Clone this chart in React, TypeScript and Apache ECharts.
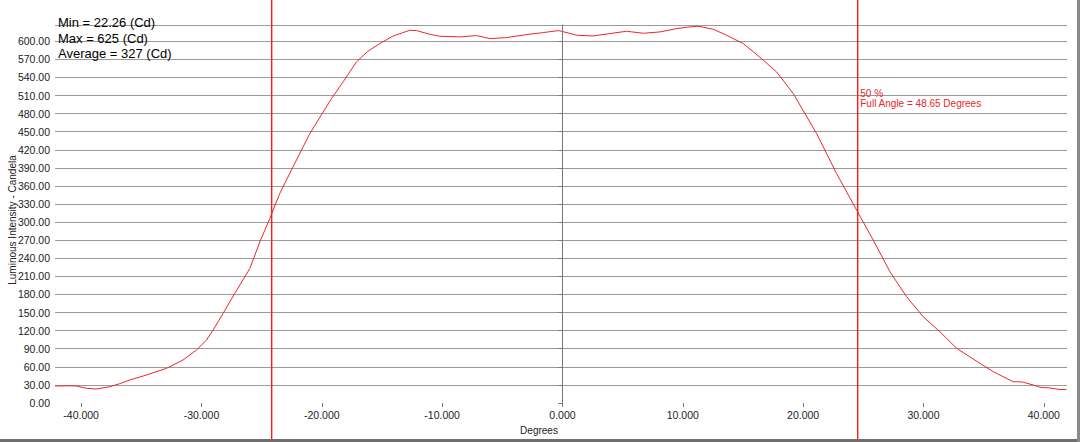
import React, { useEffect, useRef } from "react";
import * as echarts from "echarts";

// Angle (degrees) and luminous intensity (cd)
const degrees = [
  -42.17, -41.0, -40.4, -39.56, -38.73, -37.62, -36.8, -35.96, -34.57, -32.91,
  -31.53, -30.42, -29.58, -29.03, -28.2, -27.23, -25.98, -25.15, -24.32, -23.49,
  -22.39, -20.99, -19.19, -18.23, -17.12, -16.2, -15.18, -14.07, -13.3, -12.68,
  -12.13, -11.02, -10.19, -8.53, -7.14, -6.03, -4.65, -2.98, -1.6, -0.36,
  -0.07, 1.17, 2.55, 3.94, 5.33, 6.71, 8.1, 9.48, 10.4, 11.3,
  12.53, 13.64, 15.02, 16.41, 17.8, 19.18, 21.12, 22.78, 24.45, 25.83,
  27.22, 28.6, 29.98, 31.37, 32.76, 34.7, 35.8, 37.46, 38.2, 39.13,
  39.69, 40.5, 41.35, 41.9,
];
const intensity = [
  28.2, 28.5, 28.2, 24.3, 23.2, 27, 32, 38.1, 46.4, 57.5,
  71.3, 87.8, 104.4, 121, 148.6, 181.8, 223, 267, 306, 347.6,
  391.7, 447, 505, 532.6, 565.7, 583, 596.2, 608.8, 614, 618.3,
  617.7, 611.6, 608.3, 607.2, 609.5, 604.5, 606.1, 611.1, 614.4, 617.7,
  616.6, 610, 608.8, 612.8, 616.6, 613.3, 615.5, 621, 623.5, 625,
  619.9, 610, 596.2, 573.5, 549.1, 513.3, 447, 380.7, 319.9, 270.2,
  217.6, 176.2, 143, 118.2, 90.6, 65.8, 51.9, 35.3, 35.0, 29.8,
  26, 25, 22.3, 22.26,
];
const xTickValues = [-40, -30, -20, -10, 0, 10, 20, 30, 40];
const halfAngles = [-24.2, 24.5];
const statsLines = ["Min = 22.26 (Cd)", "Max = 625 (Cd)", "Average = 327 (Cd)"];
const annotationLines = ["50 %", "Full Angle = 48.65 Degrees"];
const yAxisTitle = "Luminous Intensity - Candela";
const xAxisTitle = "Degrees";
const xMin = -42.17;
const xMax = 41.93;
const yMax = 627;
const yInterval = 30;

const FONT = "'Liberation Sans', Arial, sans-serif";

export default function App() {
  const ref = useRef<HTMLDivElement>(null);
  useEffect(() => {
    if (!ref.current) return;
    const chart = echarts.init(ref.current, undefined, { renderer: "svg" });
    const splitColors: string[] = [];
    for (let i = 0; i < 30; i++) splitColors.push(i === 0 ? "rgba(0,0,0,0)" : "#9a9a9a");
    chart.setOption({
      animation: false,
      backgroundColor: "#ffffff",
      grid: {
        left: 55,
        right: 13,
        top: 25,
        bottom: 39,
        containLabel: false,
        outerBoundsMode: "none",
      },
      xAxis: {
        type: "value",
        min: xMin,
        max: xMax,
        splitLine: { show: false },
        axisLine: { show: false },
        axisTick: {
          show: true,
          customValues: xTickValues,
          length: 4,
          lineStyle: { color: "#777", width: 1 },
        },
        axisLabel: {
          customValues: xTickValues,
          formatter: (v: number) => v.toFixed(3),
          color: "#222",
          fontSize: 10.5,
          fontFamily: FONT,
          margin: 6,
        },
      },
      yAxis: {
        type: "value",
        min: 0,
        max: yMax,
        interval: yInterval,
        axisLine: { show: true, lineStyle: { color: "#777", width: 1 } },
        axisTick: { show: true, length: 4, lineStyle: { color: "#777" } },
        axisLabel: {
          formatter: (v: number) => v.toFixed(2),
          showMaxLabel: false,
          color: "#222",
          fontSize: 10.5,
          fontFamily: FONT,
          margin: 5,
        },
        splitLine: { show: true, lineStyle: { color: splitColors, width: 1 } },
      },
      series: [
        {
          type: "line",
          data: degrees.map((d, i) => [d, intensity[i]]),
          showSymbol: false,
          symbol: "none",
          lineStyle: { color: "#e8282a", width: 1 },
          silent: true,
          markLine: {
            silent: true,
            symbol: "none",
            label: { show: false },
            lineStyle: { color: "#777", width: 1, type: "solid" },
            data: [{ xAxis: 0 }],
          },
          z: 3,
        },
      ],
    });

    const graphics: any[] = [];
    halfAngles.forEach((a) => {
      const px = Math.round(chart.convertToPixel({ xAxisIndex: 0 }, a) as number);
      graphics.push({
        type: "rect",
        shape: { x: px, y: 0, width: 1.4, height: 439 },
        style: { fill: "#ff1a1a" },
        z: 10,
      });
    });
    const rightPx = chart.convertToPixel({ xAxisIndex: 0 }, halfAngles[1]) as number;
    annotationLines.forEach((t, i) => {
      graphics.push({
        type: "text",
        x: rightPx + 3,
        y: 88 + i * 10.5,
        style: { text: t, fill: "#e8282a", font: `10px ${FONT}` },
        z: 11,
      });
    });
    statsLines.forEach((t, i) => {
      graphics.push({
        type: "text",
        x: 58,
        y: 16 + i * 15.5,
        style: { text: t, fill: "#000", font: `13px ${FONT}` },
        z: 11,
      });
    });
    graphics.push({
      type: "text",
      x: 539,
      y: 425,
      style: { text: xAxisTitle, fill: "#222", font: `10px ${FONT}`, align: "center" },
    });
    graphics.push({
      type: "text",
      x: 7,
      y: 220,
      rotation: Math.PI / 2,
      style: {
        text: yAxisTitle,
        fill: "#222",
        font: `10px ${FONT}`,
        align: "center",
        verticalAlign: "top",
      },
    });
    // outer frame (bottom and right)
    graphics.push({ type: "rect", shape: { x: 0, y: 439, width: 1080, height: 3 }, style: { fill: "#6e6e6e" } });
    graphics.push({ type: "rect", shape: { x: 1077, y: 0, width: 3, height: 442 }, style: { fill: "#8a8a8a" } });
    chart.setOption({ graphic: graphics });

    return () => chart.dispose();
  }, []);
  return (
    <div
      ref={ref}
      style={{ position: "absolute", left: 0, top: 0, width: 1080, height: 442 }}
    />
  );
}
